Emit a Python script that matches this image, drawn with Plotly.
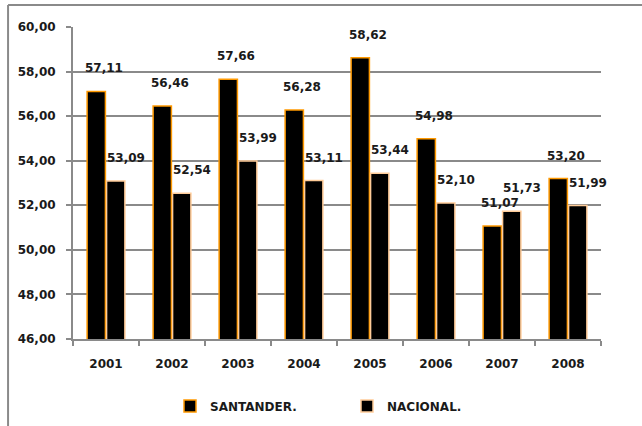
import plotly.graph_objects as go

years = ["2001", "2002", "2003", "2004", "2005", "2006", "2007", "2008"]
santander = [57.11, 56.46, 57.66, 56.28, 58.62, 54.98, 51.07, 53.20]
nacional = [53.09, 52.54, 53.99, 53.11, 53.44, 52.10, 51.73, 51.99]
series_names = ["SANTANDER.", "NACIONAL."]
y_ticks = [46, 48, 50, 52, 54, 56, 58, 60]

FONT = "DejaVu Sans"
TXT = dict(family=FONT, size=12, color="#1a1a1a", weight="bold")
fig = go.Figure()
fig.add_trace(go.Bar(x=years, y=santander, name=series_names[0],
                     marker=dict(color="black", line=dict(color="#FF9900", width=1.5))))
fig.add_trace(go.Bar(x=years, y=nacional, name=series_names[1],
                     marker=dict(color="black", line=dict(color="#FFCC99", width=1.5))))

def fmt(v):
    return f"{v:.2f}".replace(".", ",")

for vals, xs in ((santander, -2), (nacional, 20)):
    for i, v in enumerate(vals):
        fig.add_annotation(x=i, y=v, xref="x", yref="y", text=fmt(v), showarrow=False,
                           xshift=xs, yshift=23, font=TXT)

# outer frame lines (top, left)
fig.add_shape(type="line", xref="paper", yref="paper", x0=-0.123, x1=1.2, y0=1.0705, y1=1.0705,
              line=dict(color="#8a8a8a", width=2))
fig.add_shape(type="line", xref="paper", yref="paper", x0=-0.123, x1=-0.123, y0=-0.4, y1=1.0705,
              line=dict(color="#8a8a8a", width=2))

fig.update_layout(
    width=642, height=426,
    margin=dict(l=73, r=41, t=27, b=87),
    paper_bgcolor="white", plot_bgcolor="white",
    separators=",.",
    barmode="group", bargap=0.41, bargroupgap=0.06,
    font=TXT,
    showlegend=True,
    legend=dict(orientation="h", xref="container", yref="container",
                x=170 / 642, xanchor="left", y=1 - 406 / 426, yanchor="middle",
                font=dict(family=FONT, size=12, color="#1a1a1a", weight="bold"),
                entrywidth=132, entrywidthmode="pixels"),
    xaxis=dict(type="category", range=[-0.5, 7.5], showline=True, linecolor="#8a8a8a",
               linewidth=2, ticks="outside", ticklabelstandoff=13,
               tickson="boundaries", ticklen=5, tickcolor="#8a8a8a", tickwidth=2,
               showgrid=False, tickangle=0, tickfont=TXT),
    yaxis=dict(range=[46, 60], tickvals=y_ticks, tickformat=".2f", showline=True,
               linecolor="#8a8a8a", linewidth=2, ticks="outside", ticklen=5,
               ticklabelstandoff=8,
               tickcolor="#8a8a8a", tickwidth=2, showgrid=True, gridcolor="#8a8a8a",
               gridwidth=2, zeroline=False, tickfont=TXT),
)
fig.write_html("out.html", config={"displayModeBar": False},
               post_script="document.body.style.margin='0';document.body.style.padding='0';")
